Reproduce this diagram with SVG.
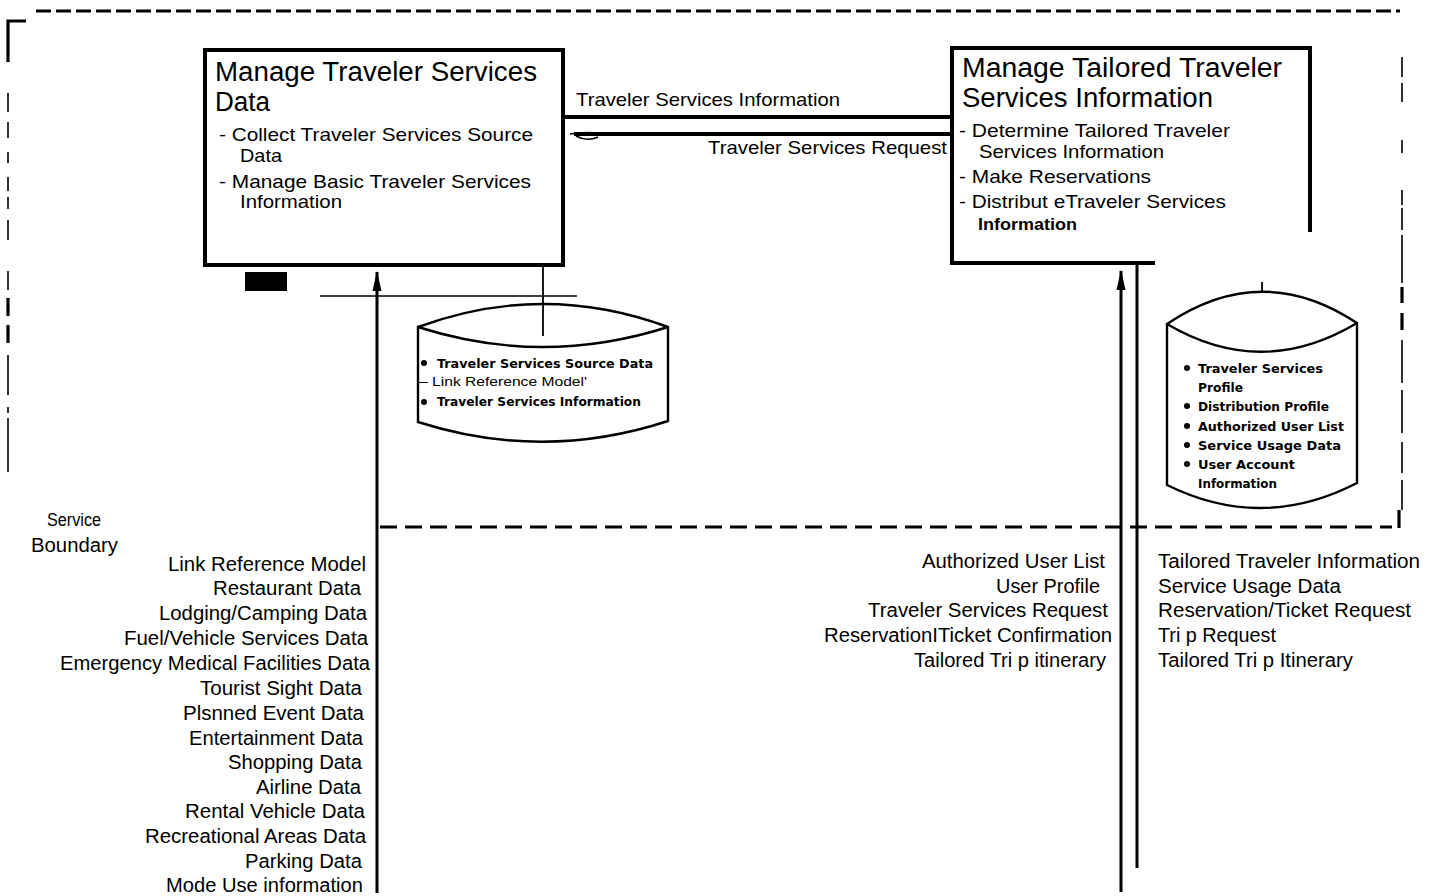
<svg xmlns="http://www.w3.org/2000/svg" width="1437" height="896" viewBox="0 0 1437 896">
<style>
text{font-family:"Liberation Sans",Arial,sans-serif;fill:#000}
.t1{font-size:27px}
.t2{font-size:19px}
.lb{font-size:19.5px}
.cb{font-family:"DejaVu Sans","Liberation Sans",sans-serif;font-size:13px;font-weight:bold}
.cr{font-size:12.5px}
.ln{stroke:#000;fill:none}
.bd{stroke:#000;fill:none;stroke-width:1.6}
.bk{stroke:#000;fill:none;stroke-width:3.2}
.box{stroke:#000;fill:#fff;stroke-width:4}
.cyl{stroke:#000;fill:#fff;stroke-width:2.4}
</style>
<defs>
<marker id="ah" viewBox="0 0 20 10" refX="19" refY="5" markerWidth="20" markerHeight="10" markerUnits="userSpaceOnUse" orient="auto">
<path d="M20,5 L0,0.5 L0,9.5 Z" fill="#000"/>
</marker>
</defs>

<g id="boundary">
<line x1="36" y1="11" x2="1400" y2="11" stroke="#000" stroke-width="3.2" stroke-dasharray="15 5"/>
<path d="M26,21 H8 V62" class="bk"/>
<path class="bd" d="M8,93V112M8,122V138M8,152V163M8,177V191M8,197V209M8,220V240M8,271V290M8,355V395M8,407V413M8,418V472"/>
<path class="bk" d="M8,298V316M8,325V343"/>
<path class="bd" d="M1402,57V77M1402,83V102M1402,140V153M1402,190V205M1402,208V230M1402,235V283M1402,340V383M1402,390V433M1402,442V473M1402,480V510"/>
<path class="bk" d="M1402,287V303M1402,313V330M1399,510V528"/>
<line x1="380" y1="527" x2="1392" y2="527" stroke="#000" stroke-width="2.8" stroke-dasharray="17 8"/>
<text x="47" y="526" font-size="18" textLength="54" lengthAdjust="spacingAndGlyphs">Service</text>
<text x="31" y="552" font-size="20" textLength="87" lengthAdjust="spacingAndGlyphs">Boundary</text>
</g>

<g id="connectors">
<line x1="563" y1="117" x2="952" y2="117" class="ln" stroke-width="3.8"/>
<text x="576" y="106" class="t2" textLength="264" lengthAdjust="spacingAndGlyphs">Traveler Services Information</text>
<line x1="574" y1="134" x2="950" y2="134" class="ln" stroke-width="3.8"/>
<path d="M570,134 Q588,131 605,134 M576,136 Q587,142 598,137" class="ln" stroke-width="1.6"/>
<text x="708" y="154" class="t2" textLength="239" lengthAdjust="spacingAndGlyphs">Traveler Services Request</text>
<line x1="377" y1="893" x2="377" y2="272" class="ln" stroke-width="3" marker-end="url(#ah)"/>
<line x1="320" y1="296" x2="577" y2="296" class="ln" stroke-width="1.6"/>
<line x1="543" y1="265" x2="543" y2="336" class="ln" stroke-width="1.8"/>
<line x1="1121" y1="892" x2="1121" y2="271" class="ln" stroke-width="3" marker-end="url(#ah)"/>
<line x1="1137" y1="264" x2="1137" y2="868" class="ln" stroke-width="3"/>
<line x1="1262" y1="282" x2="1262" y2="333" class="ln" stroke-width="1.8"/>
</g>

<g id="box-manage-traveler-services-data">
<rect x="205" y="50" width="358" height="215" class="box"/>
<text x="215" y="81" class="t1" textLength="322" lengthAdjust="spacingAndGlyphs">Manage Traveler Services</text>
<text x="215" y="111" class="t1" textLength="55" lengthAdjust="spacingAndGlyphs">Data</text>
<text x="219" y="141" class="t2" textLength="314" lengthAdjust="spacingAndGlyphs">- Collect Traveler Services Source</text>
<text x="240" y="162" class="t2" textLength="42" lengthAdjust="spacingAndGlyphs">Data</text>
<text x="219" y="188" class="t2" textLength="312" lengthAdjust="spacingAndGlyphs">- Manage Basic Traveler Services</text>
<text x="240" y="208" class="t2" textLength="102" lengthAdjust="spacingAndGlyphs">Information</text>
<rect x="245" y="272" width="42" height="19" fill="#000"/>
</g>

<g id="box-manage-tailored-traveler-services-information">
<rect x="954" y="50" width="354" height="212" fill="#fff"/>
<path d="M1155,263 H952 V48 H1310 V232" class="box" fill="none"/>
<text x="962" y="77" class="t1" textLength="320" lengthAdjust="spacingAndGlyphs">Manage Tailored Traveler</text>
<text x="962" y="107" class="t1" textLength="251" lengthAdjust="spacingAndGlyphs">Services Information</text>
<text x="959" y="137" class="t2" textLength="271" lengthAdjust="spacingAndGlyphs">- Determine Tailored Traveler</text>
<text x="979" y="158" class="t2" textLength="185" lengthAdjust="spacingAndGlyphs">Services Information</text>
<text x="959" y="183" class="t2" textLength="192" lengthAdjust="spacingAndGlyphs">- Make Reservations</text>
<text x="959" y="208" class="t2" textLength="267" lengthAdjust="spacingAndGlyphs">- Distribut eTraveler Services</text>
<text x="978" y="230" font-size="16" font-weight="bold" textLength="99" lengthAdjust="spacingAndGlyphs">Information</text>
</g>

<g id="store-traveler-services-data">
<path d="M418,327 Q543,281 668,327 V421 Q543,462 418,422 Z" class="cyl"/>
<path d="M418,327 Q543,367 668,327" class="cyl" fill="none"/>
<line x1="543" y1="305" x2="543" y2="336" class="ln" stroke-width="1.8"/>
<circle cx="424" cy="363" r="3" fill="#000"/>
<text x="437" y="368" class="cb" textLength="216" lengthAdjust="spacingAndGlyphs">Traveler Services Source Data</text>
<text x="419" y="386" class="cr" textLength="168" lengthAdjust="spacingAndGlyphs">– Link Reference  Model'</text>
<circle cx="424" cy="402" r="3" fill="#000"/>
<text x="437" y="406" class="cb" textLength="204" lengthAdjust="spacingAndGlyphs">Traveler Services Information</text>
</g>

<g id="store-traveler-profiles">
<path d="M1167,324 Q1262,260 1357,323 V483 Q1262,532 1167,485 Z" class="cyl"/>
<path d="M1167,324 Q1262,380 1357,323" class="cyl" fill="none"/>
<circle cx="1187" cy="368" r="3" fill="#000"/>
<text x="1198" y="373" class="cb" textLength="125" lengthAdjust="spacingAndGlyphs">Traveler Services</text>
<text x="1198" y="392" class="cb" textLength="45" lengthAdjust="spacingAndGlyphs">Profile</text>
<circle cx="1187" cy="406" r="3" fill="#000"/>
<text x="1198" y="411" class="cb" textLength="131" lengthAdjust="spacingAndGlyphs">Distribution Profile</text>
<circle cx="1187" cy="426" r="3" fill="#000"/>
<text x="1198" y="431" class="cb" textLength="146" lengthAdjust="spacingAndGlyphs">Authorized User List</text>
<circle cx="1187" cy="445" r="3" fill="#000"/>
<text x="1198" y="450" class="cb" textLength="143" lengthAdjust="spacingAndGlyphs">Service Usage Data</text>
<circle cx="1187" cy="464" r="3" fill="#000"/>
<text x="1198" y="469" class="cb" textLength="97" lengthAdjust="spacingAndGlyphs">User Account</text>
<text x="1198" y="488" class="cb" textLength="79" lengthAdjust="spacingAndGlyphs">Information</text>
</g>

<g id="flows-in-left">
<text x="168" y="571" class="lb" textLength="198" lengthAdjust="spacingAndGlyphs">Link Reference Model</text>
<text x="213" y="595" class="lb" textLength="148" lengthAdjust="spacingAndGlyphs">Restaurant Data</text>
<text x="159" y="620" class="lb" textLength="208" lengthAdjust="spacingAndGlyphs">Lodging/Camping Data</text>
<text x="124" y="645" class="lb" textLength="244" lengthAdjust="spacingAndGlyphs">Fuel/Vehicle Services Data</text>
<text x="60" y="670" class="lb" textLength="310" lengthAdjust="spacingAndGlyphs">Emergency Medical Facilities Data</text>
<text x="200" y="695" class="lb" textLength="162" lengthAdjust="spacingAndGlyphs">Tourist Sight Data</text>
<text x="183" y="720" class="lb" textLength="181" lengthAdjust="spacingAndGlyphs">Plsnned Event Data</text>
<text x="189" y="745" class="lb" textLength="174" lengthAdjust="spacingAndGlyphs">Entertainment Data</text>
<text x="228" y="769" class="lb" textLength="134" lengthAdjust="spacingAndGlyphs">Shopping Data</text>
<text x="256" y="794" class="lb" textLength="105" lengthAdjust="spacingAndGlyphs">Airline Data</text>
<text x="185" y="818" class="lb" textLength="180" lengthAdjust="spacingAndGlyphs">Rental Vehicle Data</text>
<text x="145" y="843" class="lb" textLength="221" lengthAdjust="spacingAndGlyphs">Recreational Areas Data</text>
<text x="245" y="868" class="lb" textLength="117" lengthAdjust="spacingAndGlyphs">Parking Data</text>
<text x="166" y="892" class="lb" textLength="197" lengthAdjust="spacingAndGlyphs">Mode Use information</text>
</g>

<g id="flows-mid">
<text x="922" y="568" class="lb" textLength="183" lengthAdjust="spacingAndGlyphs">Authorized User List</text>
<text x="996" y="593" class="lb" textLength="104" lengthAdjust="spacingAndGlyphs">User Profile</text>
<text x="868" y="617" class="lb" textLength="240" lengthAdjust="spacingAndGlyphs">Traveler Services Request</text>
<text x="824" y="642" class="lb" textLength="288" lengthAdjust="spacingAndGlyphs">ReservationITicket Confirmation</text>
<text x="914" y="667" class="lb" textLength="192" lengthAdjust="spacingAndGlyphs">Tailored Tri p itinerary</text>
</g>

<g id="flows-right">
<text x="1158" y="568" class="lb" textLength="262" lengthAdjust="spacingAndGlyphs">Tailored Traveler Information</text>
<text x="1158" y="593" class="lb" textLength="183" lengthAdjust="spacingAndGlyphs">Service Usage Data</text>
<text x="1158" y="617" class="lb" textLength="253" lengthAdjust="spacingAndGlyphs">Reservation/Ticket Request</text>
<text x="1158" y="642" class="lb" textLength="118" lengthAdjust="spacingAndGlyphs">Tri p Request</text>
<text x="1158" y="667" class="lb" textLength="195" lengthAdjust="spacingAndGlyphs">Tailored Tri p Itinerary</text>
</g>
</svg>
